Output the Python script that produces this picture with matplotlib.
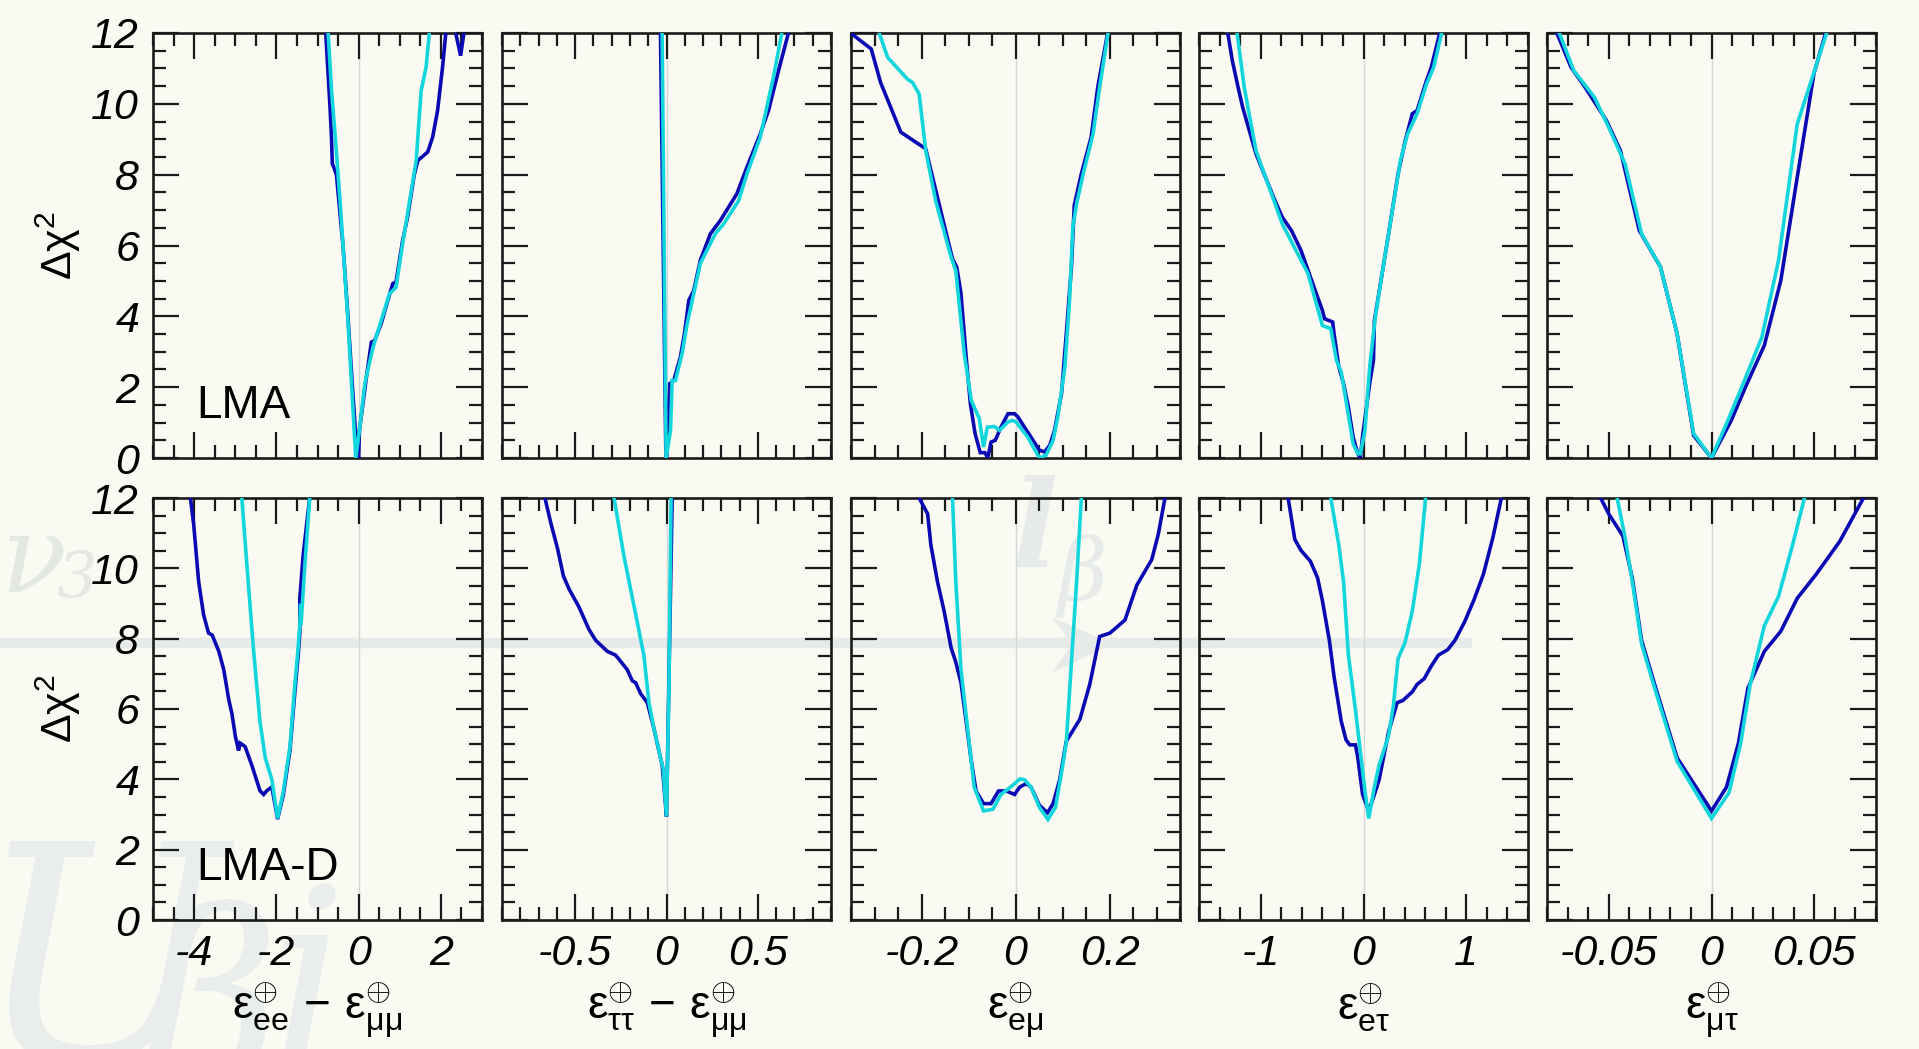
import numpy as np
import matplotlib
matplotlib.use('Agg')
import matplotlib.pyplot as plt
from matplotlib.lines import Line2D
from matplotlib.patches import Polygon
from matplotlib.ticker import FixedLocator, FixedFormatter, MultipleLocator

plt.rcParams['font.family'] = ['Liberation Sans', 'DejaVu Sans']
plt.rcParams['mathtext.fontset'] = 'custom'
plt.rcParams['mathtext.rm'] = 'Liberation Sans'
plt.rcParams['mathtext.it'] = 'Liberation Sans:italic'
plt.rcParams['mathtext.bf'] = 'Liberation Sans:bold'
plt.rcParams['axes.unicode_minus'] = False

BG = '#fafaf3'
BLUE = '#0a0ab4'
CYAN = '#12d6dc'
WM = '#e6ebe9'

# ---------------- data: LMA (top row) ----------------
lma_ee_blue_x = [-0.80, -0.70, -0.66, -0.64, -0.62, -0.54, -0.38, -0.26, -0.15, -0.05, 0.0, 0.02, 0.19, 0.31,
                 0.39, 0.55, 0.71, 0.83, 0.91, 1.07, 1.19, 1.35, 1.44, 1.68, 1.80, 1.92, 2.04, 2.12, np.nan,
                 2.36, 2.48, 2.56]
lma_ee_blue_y = [12, 10.0, 9.06, 8.3, 8.26, 8.0, 6.0, 4.0, 2.0, 0.3, 0.0, 0.78, 2.29, 3.27,
                 3.32, 3.8, 4.45, 4.92, 4.97, 6.14, 6.8, 7.98, 8.4, 8.64, 9.06, 9.81, 11.03, 12, np.nan,
                 12, 11.36, 12]
lma_ee_cyan_x = [-0.74, -0.66, -0.58, -0.44, -0.26, -0.07, 0.02, 0.15, 0.35, 0.75, 0.91, 1.07, 1.40, 1.52,
                 1.64, 1.72]
lma_ee_cyan_y = [12, 10.4, 9.24, 7.08, 3.88, 0.0, 0.78, 2.1, 3.13, 4.64, 4.82, 6.05, 8.4, 10.37, 11.03, 12]

lma_tt_blue_x = [-0.033, -0.004, 0.0, 0.018, 0.04, 0.076, 0.098, 0.122, 0.149, 0.185, 0.24, 0.295, 0.385,
                 0.44, 0.513, 0.558, 0.613, 0.667]
lma_tt_blue_y = [12, 0.3, 0.0, 2.1, 2.19, 2.85, 3.5, 4.45, 4.73, 5.58, 6.33, 6.71, 7.46, 8.21, 9.15, 9.81,
                 10.94, 12]
lma_tt_cyan_x = [-0.024, -0.002, 0.022, 0.031, 0.049, 0.085, 0.113, 0.149, 0.185, 0.267, 0.313, 0.395, 0.44,
                 0.513, 0.549, 0.585, 0.631]
lma_tt_cyan_y = [12, 0.0, 0.78, 2.19, 2.19, 2.94, 3.79, 4.64, 5.49, 6.33, 6.61, 7.27, 8.02, 9.06, 9.91, 10.75,
                 12]

lma_em_blue_x = [-0.351, -0.307, -0.287, -0.244, -0.191, -0.167, -0.134, -0.125, -0.116, -0.105, -0.096,
                 -0.086, -0.075, -0.065, -0.059, -0.052, -0.043, -0.031, -0.016, -0.002, 0.005, 0.026, 0.051,
                 0.062, 0.073, 0.083, 0.098, 0.108, 0.119, 0.125, 0.14, 0.161, 0.175, 0.196]
lma_em_blue_y = [12, 11.55, 10.6, 9.2, 8.73, 7.41, 5.62, 5.39, 4.64, 2.85, 1.53, 0.69, 0.15, 0.15, 0.0, 0.45,
                 0.5, 0.87, 1.25, 1.25, 1.16, 0.73, 0.22, 0.17, 0.36, 0.78, 1.82, 3.5, 5.39, 7.13, 8.02, 9.06,
                 10.47, 12]
lma_em_cyan_x = [-0.29, -0.272, -0.23, -0.219, -0.205, -0.191, -0.17, -0.137, -0.127, -0.109, -0.094, -0.077,
                 -0.068, -0.06, -0.045, -0.034, -0.016, -0.006, 0.001, 0.026, 0.051, 0.065, 0.08, 0.09, 0.105,
                 0.115, 0.122, 0.13, 0.144, 0.165, 0.179, 0.197]
lma_em_cyan_y = [12, 11.31, 10.7, 10.6, 10.28, 8.68, 7.27, 5.67, 5.29, 2.94, 1.62, 1.11, 0.31, 0.87, 0.89,
                 0.78, 1.02, 1.06, 1.02, 0.59, 0.0, 0.08, 0.5, 1.16, 2.57, 4.45, 6.52, 7.18, 8.02, 9.15, 10.47,
                 12]

lma_et_blue_x = [-1.32, -1.276, -1.22, -1.175, -1.046, -0.954, -0.862, -0.79, -0.70, -0.608, -0.539, -0.47,
                 -0.40, -0.378, -0.30, -0.286, -0.24, -0.194, -0.147, -0.101, -0.055, -0.03, -0.01, 0.06, 0.097,
                 0.106, 0.175, 0.244, 0.336, 0.406, 0.475, 0.521, 0.613, 0.659, 0.742]
lma_et_blue_y = [12, 11.22, 10.47, 9.9, 8.59, 7.93, 7.27, 6.8, 6.42, 5.86, 5.3, 4.73, 4.17, 3.93, 3.84, 3.5,
                 2.57, 2.1, 1.44, 0.59, 0.12, 0.0, 0.59, 2.1, 2.76, 3.88, 5.1, 6.33, 8.02, 8.96, 9.72, 9.81,
                 10.66, 11.03, 12]
lma_et_cyan_x = [-1.23, -1.16, -1.046, -0.79, -0.539, -0.40, -0.318, -0.263, -0.217, -0.17, -0.101, -0.055,
                 -0.03, 0.014, 0.06, 0.115, 0.175, 0.244, 0.359, 0.429, 0.521, 0.613, 0.682, 0.76]
lma_et_cyan_y = [12, 10.47, 8.68, 6.61, 5.2, 3.74, 3.65, 2.76, 2.43, 1.62, 0.4, 0.12, 0.12, 0.78, 2.57, 3.98,
                 5.1, 6.33, 8.4, 9.15, 9.72, 10.56, 11.03, 12]

lma_mt_blue_x = [-0.0752, -0.0683, -0.0615, -0.0511, -0.0443, -0.0351, -0.0248, -0.0167, -0.0087, 0.0,
                 0.0096, 0.0165, 0.0257, 0.0337, 0.0417, 0.0498, 0.0555]
lma_mt_blue_y = [12, 11.03, 10.47, 9.53, 8.68, 6.42, 5.39, 3.5, 0.64, 0.0, 1.06, 2.0, 3.18, 5.01, 7.93, 10.85,
                 12]
lma_mt_cyan_x = [-0.074, -0.067, -0.057, -0.05, -0.042, -0.034, -0.0248, -0.0167, -0.0087, 0.0, 0.0073,
                 0.0154, 0.0245, 0.0326, 0.0417, 0.0475, 0.056]
lma_mt_cyan_y = [12, 10.94, 10.19, 9.34, 8.3, 6.33, 5.39, 3.5, 0.69, 0.0, 0.97, 2.1, 3.41, 5.58, 9.43, 10.47,
                 12]

# ---------------- data: LMA-D (bottom row) ----------------
lmad_ee_blue_x = [-4.09, -4.01, -3.89, -3.77, -3.65, -3.56, -3.40, -3.28, -3.16, -3.08, -3.00, -2.92, -2.88,
                  -2.76, -2.60, -2.40, -2.31, -2.23, -2.11, -1.97, -1.83, -1.67, -1.55, -1.47, -1.43, -1.43,
                  -1.35, -1.27, -1.19]
lmad_ee_blue_y = [12, 11.24, 9.62, 8.68, 8.16, 8.1, 7.64, 7.12, 6.28, 5.86, 5.24, 4.82, 5.03, 4.93, 4.41,
                  3.68, 3.57, 3.68, 3.78, 2.87, 3.57, 4.82, 6.49, 7.53, 8.16, 9.15, 10.35, 11.19, 12]
lmad_ee_cyan_x = [-2.84, -2.72, -2.56, -2.40, -2.27, -2.11, -1.97, -1.83, -1.67, -1.55, -1.47, -1.43, -1.41,
                  -1.40, -1.31, -1.19]
lmad_ee_cyan_y = [12, 10.14, 7.74, 5.65, 4.61, 3.99, 2.89, 3.67, 4.93, 6.7, 7.74, 8.4, 8.99, 8.4, 10.04, 12]

lmad_tt_blue_x = [-0.665, -0.633, -0.596, -0.564, -0.533, -0.478, -0.424, -0.387, -0.324, -0.278, -0.215,
                  -0.187, -0.169, -0.142, -0.105, -0.069, -0.042, -0.024, -0.015, 0.0, 0.031]
lmad_tt_blue_y = [12, 11.29, 10.56, 9.78, 9.41, 8.89, 8.26, 7.95, 7.64, 7.53, 7.12, 6.8, 6.75, 6.44, 6.18,
                  5.45, 4.82, 4.41, 3.89, 2.94, 12]
lmad_tt_cyan_x = [-0.287, -0.233, -0.16, -0.124, -0.096, -0.069, -0.033, -0.018, 0.0, 0.013, 0.025]
lmad_tt_cyan_y = [12, 10.35, 8.47, 7.53, 6.18, 5.45, 4.62, 4.3, 2.94, 6.5, 12]

lmad_em_blue_x = [-0.205, -0.187, -0.18, -0.166, -0.152, -0.137, -0.127, -0.116, -0.105, -0.095, -0.084,
                  -0.068, -0.052, -0.036, -0.02, -0.002, 0.009, 0.023, 0.033, 0.051, 0.068, 0.08, 0.094, 0.108,
                  0.137, 0.158, 0.179, 0.201, 0.233, 0.258, 0.29, 0.304, 0.318]
lmad_em_blue_y = [12, 11.55, 10.66, 9.62, 8.79, 7.74, 7.33, 6.75, 5.65, 4.61, 3.67, 3.31, 3.31, 3.67, 3.67,
                  3.57, 3.78, 3.88, 3.78, 3.26, 3.05, 3.31, 3.99, 5.08, 5.71, 6.7, 8.06, 8.16, 8.53, 9.52,
                  10.25, 10.98, 12]
lmad_em_cyan_x = [-0.134, -0.127, -0.116, -0.102, -0.088, -0.068, -0.048, -0.031, -0.006, 0.009, 0.019, 0.033,
                  0.051, 0.069, 0.085, 0.098, 0.108, 0.119, 0.13, 0.14]
lmad_em_cyan_y = [12, 9.62, 7.12, 5.45, 3.78, 3.1, 3.15, 3.57, 3.83, 4.01, 3.99, 3.78, 3.2, 2.86, 3.2, 4.2,
                  5.03, 7.33, 9.62, 12]

lmad_et_blue_x = [-0.733, -0.668, -0.608, -0.516, -0.447, -0.401, -0.332, -0.286, -0.217, -0.171, -0.134,
                  -0.078, -0.055, -0.009, 0.051, 0.106, 0.152, 0.244, 0.327, 0.382, 0.475, 0.521, 0.59, 0.659,
                  0.728, 0.82, 0.889, 0.982, 1.074, 1.166, 1.258, 1.341]
lmad_et_blue_y = [12, 10.82, 10.51, 10.2, 9.73, 9.1, 7.95, 6.91, 5.66, 5.13, 4.98, 4.98, 4.61, 3.57, 3.1,
                  3.57, 3.99, 5.35, 6.18, 6.24, 6.49, 6.7, 6.86, 7.22, 7.53, 7.69, 7.95, 8.47, 9.1, 9.83, 10.87,
                  12]
lmad_et_cyan_x = [-0.318, -0.24, -0.194, -0.147, -0.078, -0.032, 0.014, 0.051, 0.106, 0.152, 0.244, 0.29,
                  0.336, 0.405, 0.475, 0.544, 0.604]
lmad_et_cyan_y = [12, 10.66, 9.62, 7.53, 5.97, 4.82, 3.67, 2.89, 3.78, 4.41, 5.24, 6.08, 7.43, 7.9, 8.79,
                  10.14, 12]

lmad_mt_blue_x = [-0.0539, -0.05, -0.0431, -0.0385, -0.034, -0.0271, -0.0167, 0.0, 0.0073, 0.0131, 0.0177,
                  0.0257, 0.0337, 0.0417, 0.0509, 0.0624, 0.0739]
lmad_mt_blue_y = [12, 11.55, 10.92, 9.72, 7.95, 6.59, 4.61, 3.1, 3.78, 5.03, 6.59, 7.64, 8.21, 9.15, 9.83,
                  10.77, 12]
lmad_mt_cyan_x = [-0.0459, -0.042, -0.0385, -0.034, -0.0271, -0.0167, 0.0, 0.0085, 0.0142, 0.0188, 0.0257,
                  0.0326, 0.0394, 0.0452]
lmad_mt_cyan_y = [12, 10.87, 9.62, 7.85, 6.49, 4.51, 2.89, 3.62, 5.03, 6.7, 8.37, 9.2, 10.66, 12]

# ---------------- axes descriptions ----------------
x_limits = [(-5, 3), (-0.9, 0.9), (-0.35, 0.35), (-1.6, 1.6), (-0.08, 0.08)]
x_major = [[-4, -2, 0, 2], [-0.5, 0, 0.5], [-0.2, 0, 0.2], [-1, 0, 1], [-0.05, 0, 0.05]]
x_ticklabels = [['-4', '-2', '0', '2'], ['-0.5', '0', '0.5'], ['-0.2', '0', '0.2'], ['-1', '0', '1'],
                ['-0.05', '0', '0.05']]
x_minor_step = [0.5, 0.1, 0.05, 0.2, 0.01]
x_titles = [r'$\mathrm{\varepsilon}^{\oplus}_{\mathrm{ee}}\,-\,\mathrm{\varepsilon}^{\oplus}_{\mathrm{\mu\mu}}$',
            r'$\mathrm{\varepsilon}^{\oplus}_{\mathrm{\tau\tau}}\,-\,\mathrm{\varepsilon}^{\oplus}_{\mathrm{\mu\mu}}$',
            r'$\mathrm{\varepsilon}^{\oplus}_{\mathrm{e\mu}}$',
            r'$\mathrm{\varepsilon}^{\oplus}_{\mathrm{e\tau}}$',
            r'$\mathrm{\varepsilon}^{\oplus}_{\mathrm{\mu\tau}}$']
y_major = [0, 2, 4, 6, 8, 10, 12]
y_ticklabels = ['0', '2', '4', '6', '8', '10', '12']
row_labels = ['LMA', 'LMA-D']

rows = [
    [(lma_ee_blue_x, lma_ee_blue_y, lma_ee_cyan_x, lma_ee_cyan_y),
     (lma_tt_blue_x, lma_tt_blue_y, lma_tt_cyan_x, lma_tt_cyan_y),
     (lma_em_blue_x, lma_em_blue_y, lma_em_cyan_x, lma_em_cyan_y),
     (lma_et_blue_x, lma_et_blue_y, lma_et_cyan_x, lma_et_cyan_y),
     (lma_mt_blue_x, lma_mt_blue_y, lma_mt_cyan_x, lma_mt_cyan_y)],
    [(lmad_ee_blue_x, lmad_ee_blue_y, lmad_ee_cyan_x, lmad_ee_cyan_y),
     (lmad_tt_blue_x, lmad_tt_blue_y, lmad_tt_cyan_x, lmad_tt_cyan_y),
     (lmad_em_blue_x, lmad_em_blue_y, lmad_em_cyan_x, lmad_em_cyan_y),
     (lmad_et_blue_x, lmad_et_blue_y, lmad_et_cyan_x, lmad_et_cyan_y),
     (lmad_mt_blue_x, lmad_mt_blue_y, lmad_mt_cyan_x, lmad_mt_cyan_y)],
]

W, H = 1919, 1049
fig = plt.figure(figsize=(W / 100, H / 100), dpi=100, facecolor=BG)

# ---------------- faint background decoration ----------------
def fx(px):
    return px / W

def fy(py):
    return 1 - py / H

fig.add_artist(Line2D([0, fx(1472)], [fy(643), fy(643)], transform=fig.transFigure, color=WM,
                      lw=7.5, solid_capstyle='butt', zorder=-5))
fig.add_artist(Polygon([(fx(1052), fy(617)), (fx(1112), fy(644)), (fx(1052), fy(673)), (fx(1072), fy(644))],
                       closed=True, transform=fig.transFigure, facecolor=WM, edgecolor='none', zorder=-5))
fig.text(fx(0), fy(592), 'ν', fontsize=78, family='DejaVu Serif', style='italic', color='#e3e9e2',
         zorder=-5, va='baseline')
fig.text(fx(56), fy(598), '3', fontsize=46, family='DejaVu Serif', style='italic', color='#e3e9e2',
         zorder=-5, va='baseline')
fig.text(fx(1012), fy(568), 'l', fontsize=88, family='DejaVu Serif', style='italic', color=WM,
         zorder=-5, va='baseline', weight='bold')
fig.text(fx(1058), fy(600), 'β', fontsize=62, family='DejaVu Serif', style='italic', color=WM,
         zorder=-5, va='baseline')
fig.text(fx(-25), fy(1060), 'U', fontsize=215, family='DejaVu Serif', style='italic', color='#e9eeed',
         zorder=-5, va='baseline')
fig.text(fx(140), fy(1085), 'β', fontsize=175, family='DejaVu Serif', style='italic', color='#e9eeed',
         zorder=-5, va='baseline')
fig.text(fx(270), fy(1062), 'i', fontsize=175, family='DejaVu Serif', style='italic', color='#e9eeed',
         zorder=-5, va='baseline')

# ---------------- panels ----------------
lefts_px = [153, 502, 851, 1199, 1547]
width_px = 329
row_geom = [(33, 425), (498, 422)]

tick_font = dict(family='Liberation Sans', style='italic', size=31)

for r in range(2):
    top_px, h_px = row_geom[r]
    for c in range(5):
        ax = fig.add_axes([fx(lefts_px[c]), fy(top_px + h_px), width_px / W, h_px / H])
        ax.set_facecolor('none')
        bx, by, cx, cy = rows[r][c]
        ax.axvline(0, color='#d6d6d6', lw=1.0, zorder=1)
        ax.plot(bx, by, color=BLUE, lw=2.6, zorder=3, solid_joinstyle='miter')
        ax.plot(cx, cy, color=CYAN, lw=2.6, zorder=4, solid_joinstyle='miter')
        ax.set_xlim(*x_limits[c])
        ax.set_ylim(0, 12)
        ax.xaxis.set_major_locator(FixedLocator(x_major[c]))
        ax.xaxis.set_minor_locator(MultipleLocator(x_minor_step[c]))
        ax.yaxis.set_major_locator(FixedLocator(y_major))
        ax.yaxis.set_minor_locator(MultipleLocator(0.5))
        ax.tick_params(which='both', direction='in', top=True, right=True, color='#1a1a1a')
        ax.tick_params(which='major', length=19, width=1.6, pad=10)
        ax.tick_params(which='minor', length=9.5, width=1.6)
        for sp in ax.spines.values():
            sp.set_linewidth(1.9)
            sp.set_color('#1a1a1a')
        if r == 1:
            ax.xaxis.set_major_formatter(FixedFormatter(x_ticklabels[c]))
            for lab in ax.get_xticklabels():
                lab.set(**tick_font)
            ax.set_xlabel(x_titles[c], fontsize=33, labelpad=5)
        else:
            ax.set_xticklabels([])
        if c == 0:
            ax.yaxis.set_major_formatter(FixedFormatter(y_ticklabels))
            for lab in ax.get_yticklabels():
                lab.set(**tick_font)
            ax.set_ylabel('Δχ$^{2}$', fontsize=31, labelpad=6)
            ax.text(0.13, 0.095, row_labels[r], transform=ax.transAxes, fontsize=33,
                    family='Liberation Sans', ha='left', va='baseline')
        else:
            ax.set_yticklabels([])

fig.savefig('out.png', dpi=100, facecolor=BG)
